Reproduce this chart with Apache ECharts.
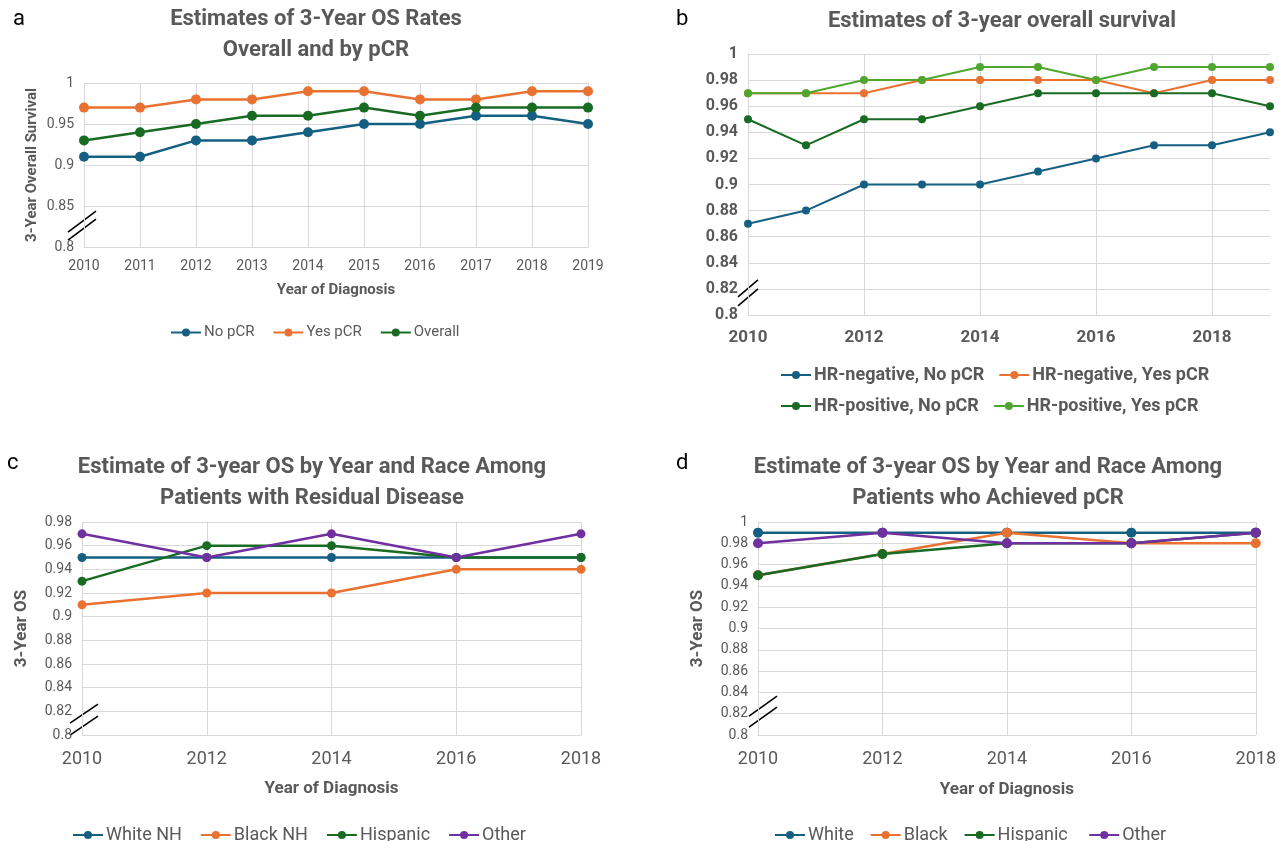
<!DOCTYPE html>
<html>
<head>
<meta charset="utf-8">
<script src="https://cdn.jsdelivr.net/npm/echarts@6/dist/echarts.min.js"></script>
<style>
  html, body { margin: 0; padding: 0; background: #fff; }
  #chart { width: 1279px; height: 841px; }
</style>
</head>
<body>
<div id="chart"></div>
<script>
// ---- data ----
const yearsA = ['2010','2011','2012','2013','2014','2015','2016','2017','2018','2019'];
const noPCR   = [0.91,0.91,0.93,0.93,0.94,0.95,0.95,0.96,0.96,0.95];
const yesPCR  = [0.97,0.97,0.98,0.98,0.99,0.99,0.98,0.98,0.99,0.99];
const overall = [0.93,0.94,0.95,0.96,0.96,0.97,0.96,0.97,0.97,0.97];

const yearsB = ['2010','2011','2012','2013','2014','2015','2016','2017','2018','2019'];
const hrNegNo  = [0.87,0.88,0.90,0.90,0.90,0.91,0.92,0.93,0.93,0.94];
const hrNegYes = [0.97,0.97,0.97,0.98,0.98,0.98,0.98,0.97,0.98,0.98];
const hrPosNo  = [0.95,0.93,0.95,0.95,0.96,0.97,0.97,0.97,0.97,0.96];
const hrPosYes = [0.97,0.97,0.98,0.98,0.99,0.99,0.98,0.99,0.99,0.99];

const yearsC = ['2010','2012','2014','2016','2018'];
const whiteNH   = [0.95,0.95,0.95,0.95,0.95];
const blackNH   = [0.91,0.92,0.92,0.94,0.94];
const hispanicC = [0.93,0.96,0.96,0.95,0.95];
const otherC    = [0.97,0.95,0.97,0.95,0.97];

const yearsD = ['2010','2012','2014','2016','2018'];
const whiteD    = [0.99,0.99,0.99,0.99,0.99];
const blackD    = [0.95,0.97,0.99,0.98,0.98];
const hispanicD = [0.95,0.97,0.98,0.98,0.99];
const otherD    = [0.98,0.99,0.98,0.98,0.99];

// ---- styling ----
const BLUE = '#156082', ORANGE = '#E97132', GREEN = '#196B24', LGREEN = '#4EA72E', PURPLE = '#7030A0';
const GRAY = '#595959', GRID = '#d9d9d9';
const FONT = 'Roboto, "Open Sans", sans-serif';

const fmt = v => String(+v.toFixed(2));

function xAxis(gridIndex, data, o) {
  return {
    type: 'category', gridIndex, data, boundaryGap: false,
    axisLine: { show: true, lineStyle: { color: GRID, width: 1 } },
    axisTick: { show: false },
    axisLabel: Object.assign({ color: GRAY, fontFamily: FONT, margin: 12 }, o.label),
    splitLine: Object.assign({ show: true, lineStyle: { color: GRID, width: 1 } }, o.split || {}),
    name: o.name || '', nameLocation: 'middle', nameGap: o.nameGap || 30,
    nameTextStyle: { color: GRAY, fontFamily: FONT, fontWeight: 'bold', fontSize: o.nameSize || 14 }
  };
}
function yAxis(gridIndex, max, interval, o) {
  return {
    type: 'value', gridIndex, min: 0.8, max, interval,
    axisLine: { show: true, lineStyle: { color: GRID, width: 1 } },
    axisTick: { show: false },
    axisLabel: Object.assign({ color: GRAY, fontFamily: FONT, formatter: fmt, margin: 10 }, o.label),
    splitLine: { show: true, lineStyle: { color: GRID, width: 1 } },
    name: o.name || '', nameLocation: 'middle', nameGap: o.nameGap || 40, nameRotate: 90,
    nameTextStyle: { color: GRAY, fontFamily: FONT, fontWeight: 'bold', fontSize: o.nameSize || 14 }
  };
}
function line(name, data, color, idx, size, width) {
  return {
    type: 'line', name, data, xAxisIndex: idx, yAxisIndex: idx,
    symbol: 'circle', symbolSize: size, color,
    lineStyle: { color, width }, itemStyle: { color },
    emphasis: { disabled: true }, animation: false
  };
}
function legend(names, o, text) {
  return Object.assign({
    data: names, itemWidth: 30, itemHeight: 10, itemGap: 18, padding: 0,
    textStyle: Object.assign({ color: GRAY, fontFamily: FONT, fontSize: 14, padding: [0, 0, 0, -2] }, text || {}),
    selectedMode: false
  }, o);
}
function title(text, left, top, o) {
  return Object.assign({
    text, left, top, textAlign: 'center',
    textStyle: { color: GRAY, fontFamily: FONT, fontWeight: 'bold', fontSize: 22, lineHeight: 31 }
  }, o || {});
}
function letter(text, left, top) {
  return { text, left, top, textStyle: { color: '#000', fontFamily: FONT, fontWeight: 'normal', fontSize: 22 } };
}

const option = {
  backgroundColor: '#fff',
  animation: false,
  title: [
    letter('a', 8, 3), letter('b', 671, 3), letter('c', 2, 447), letter('d', 671, 447),
    title('Estimates of 3-Year OS Rates\nOverall and by pCR', 311, -1),
    title('Estimates of 3-year overall survival', 997, 1),
    title('Estimate of 3-year OS by Year and Race Among\nPatients with Residual Disease', 307, 447),
    title('Estimate of 3-year OS by Year and Race Among\nPatients who Achieved pCR', 983, 447)
  ],
  grid: [
    { left: 84, top: 83, width: 504, height: 164 },
    { left: 748, top: 54, width: 522, height: 261 },
    { left: 82, top: 522, width: 499, height: 213 },
    { left: 758, top: 522, width: 500, height: 213 }
  ],
  xAxis: [
    xAxis(0, yearsA, { label: { fontSize: 14, margin: 12 }, name: 'Year of Diagnosis', nameGap: 36, nameSize: 15 }),
    xAxis(1, yearsB, { label: { fontSize: 17, fontWeight: 'bold', interval: 1, margin: 14 }, split: { interval: 1 } }),
    xAxis(2, yearsC, { label: { fontSize: 18, margin: 15 }, name: 'Year of Diagnosis', nameGap: 45, nameSize: 17 }),
    xAxis(3, yearsD, { label: { fontSize: 18, margin: 15 }, name: 'Year of Diagnosis', nameGap: 46, nameSize: 17 })
  ],
  yAxis: [
    yAxis(0, 1, 0.05, { label: { fontSize: 14 }, name: '3-Year Overall Survival', nameGap: 44, nameSize: 15 }),
    yAxis(1, 1, 0.02, { label: { fontSize: 16, fontWeight: 'bold' } }),
    yAxis(2, 0.98, 0.02, { label: { fontSize: 14 }, name: '3-Year OS', nameGap: 52, nameSize: 17 }),
    yAxis(3, 1, 0.02, { label: { fontSize: 14 }, name: '3-Year OS', nameGap: 52, nameSize: 17 })
  ],
  legend: [
    legend(['No pCR', 'Yes pCR', 'Overall'], { left: 170, top: 325 }, { fontSize: 15 }),
    legend(['HR-negative, No pCR', 'HR-negative, Yes pCR'], { left: 780, top: 366, itemGap: 14 },
      { fontSize: 18, fontWeight: 'bold' }),
    legend(['HR-positive, No pCR', 'HR-positive, Yes pCR'], { left: 780, top: 397, itemGap: 14 },
      { fontSize: 18, fontWeight: 'bold' }),
    legend(['White NH', 'Black NH', 'Hispanic', 'Other'], { left: 72, top: 826, itemGap: 18 },
      { fontSize: 18 }),
    legend(['White', 'Black', 'Hispanic ', 'Other '], { left: 774, top: 826, itemGap: 16 },
      { fontSize: 18 })
  ],
  series: [
    line('No pCR', noPCR, BLUE, 0, 10, 2.5),
    line('Yes pCR', yesPCR, ORANGE, 0, 10, 2.5),
    line('Overall', overall, GREEN, 0, 10, 2.5),

    line('HR-negative, No pCR', hrNegNo, BLUE, 1, 8, 2),
    line('HR-negative, Yes pCR', hrNegYes, ORANGE, 1, 8, 2),
    line('HR-positive, No pCR', hrPosNo, GREEN, 1, 8, 2),
    line('HR-positive, Yes pCR', hrPosYes, LGREEN, 1, 8, 2),

    line('White NH', whiteNH, BLUE, 2, 9, 2.5),
    line('Black NH', blackNH, ORANGE, 2, 9, 2.5),
    line('Hispanic', hispanicC, GREEN, 2, 9, 2.5),
    line('Other', otherC, PURPLE, 2, 9, 2.5),

    line('White', whiteD, BLUE, 3, 10, 2.5),
    line('Black', blackD, ORANGE, 3, 10, 2.5),
    line('Hispanic ', hispanicD, GREEN, 3, 10, 2.5),
    line('Other ', otherD, PURPLE, 3, 10, 2.5)
  ]
};

const chart = echarts.init(document.getElementById('chart'), null, { renderer: 'canvas' });
chart.setOption(option);

// Axis-break marks: two short parallel slashes across each y axis near its base,
// placed through the chart's own coordinate conversion.
// at: axis value of the mark's centre; dx: horizontal shift from the axis;
// hw/hh: half width / half height of each slash; gap: vertical spacing.
const breaks = [
  { grid: 0, at: 0.826, dx: -2, hw: 14, hh: 10.5, gap: 8 },
  { grid: 1, at: 0.817, dx: 0,  hw: 10, hh: 8.5,  gap: 9 },
  { grid: 2, at: 0.813, dx: 2,  hw: 14, hh: 9.5,  gap: 12 },
  { grid: 3, at: 0.822, dx: 5,  hw: 14, hh: 10,   gap: 11 }
];
const graphics = [];
breaks.forEach(b => {
  const p = chart.convertToPixel({ xAxisIndex: b.grid, yAxisIndex: b.grid }, [0, b.at]);
  const cx = p[0] + b.dx;
  [-b.gap / 2, b.gap / 2].forEach(dy => {
    graphics.push({
      type: 'line', silent: true,
      shape: { x1: cx - b.hw, y1: p[1] + dy + b.hh, x2: cx + b.hw, y2: p[1] + dy - b.hh },
      style: { stroke: '#000', lineWidth: 1.6 }
    });
  });
});
chart.setOption({ graphic: graphics });
</script>
</body>
</html>
